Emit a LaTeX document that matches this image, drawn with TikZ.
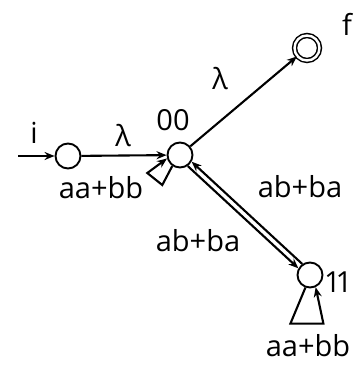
\documentclass[tikz,border=0pt]{standalone}
\usepackage{fontspec}
\setmainfont[Numbers=Proportional]{Open Sans}
\usetikzlibrary{arrows.meta}
\tikzset{st/.style={draw,circle,minimum size=25pt,inner sep=0pt,line width=1.9pt},
acc/.style={st,double,line width=1.5pt,double distance=2.4pt},
lab/.style={font=\fontsize{29}{32}\selectfont,inner sep=0pt},
tr/.style={line width=2.1pt,-{Stealth[length=10pt,width=8pt]}}}

\begin{document}
\begin{tikzpicture}[x=1pt,y=-1pt]
\useasboundingbox (0,0) rectangle (355,366);
% states
\node[st] (i) at (68,156) {};
\node[st] (n00) at (180,155) {};
\node[acc] (f) at (307,48) {};
\node[st] (n11) at (310,275) {};
\coordinate (s) at (18,156);
% state labels
\node[lab] (li) at (34,133) {i};
\node[lab] (l00) at (173,120) {00};
\node[lab] (lf) at (347,24) {f};
\node[lab,anchor=west] (l11) at (326,282) {11};
% transitions
\draw[tr] (s) -- (i);
\draw[tr] (i) -- (n00);
\draw[tr] (n00) -- (f);
\draw[tr] (n00.-55) -- (n11.150);
\draw[tr] (n11.125) -- (n00.-30);
\draw[tr] (n00.235) -- ++(-10,19) -- ++(-15,-12) -- (n00.195);
\draw[tr] (n11.250) -- ++(-15,36) -- ++(33,0) -- (n11.295);
% transition labels
\node[lab] (e1) at (123,136) {λ};
\node[lab] (e2) at (220,79) {λ};
\node[lab] (e3) at (300,187) {ab+ba};
\node[lab] (e4) at (198,241) {ab+ba};
\node[lab] (e5) at (101,188) {aa+bb};
\node[lab] (e6) at (308,346) {aa+bb};
\end{tikzpicture}
\end{document}
